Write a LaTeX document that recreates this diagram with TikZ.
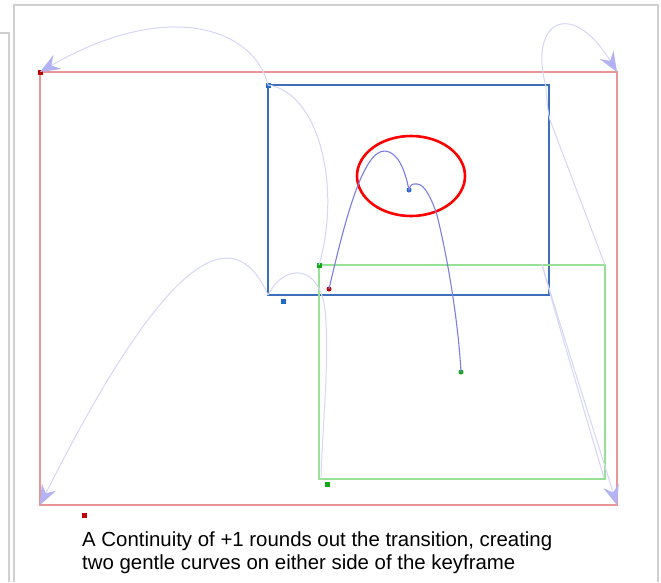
\documentclass[tikz,border=0pt]{standalone}
\usepackage{fontspec}
\setmainfont{Liberation Sans}
\usetikzlibrary{arrows.meta}
\definecolor{framegray}{RGB}{208,208,208}
\definecolor{redrect}{RGB}{232,150,150}
\definecolor{bluerect}{RGB}{60,110,185}
\definecolor{greenrect}{RGB}{150,225,150}
\definecolor{lav}{RGB}{214,214,250}
\definecolor{lavtip}{RGB}{178,178,245}
\definecolor{pathblue}{RGB}{125,125,230}
\definecolor{dred}{RGB}{190,0,0}
\definecolor{dblue}{RGB}{35,105,200}
\definecolor{dgreen}{RGB}{20,170,20}
\tikzset{
  frameline/.style={draw=framegray, line width=2pt},
  keyrect/.style={line width=#1},
  lavpath/.style={draw=lav, line width=1pt},
  lavarrow/.style={lavpath, -{Stealth[length=20pt,width=16pt,inset=7pt,color=lavtip,fill=lavtip]}},
  dotc/.style={circle, inner sep=0pt, minimum size=5pt, fill=#1},
  dotsq/.style={rectangle, inner sep=0pt, minimum size=5pt, fill=#1},
  caption/.style={anchor=base west, inner sep=0pt, font=\fontsize{20.4}{23}\selectfont}
}
\begin{document}
\begin{tikzpicture}[x=1pt,y=-1pt]
\useasboundingbox (0,0) rectangle (661,582);
\fill[white] (0,0) rectangle (661,582);
% screenshot frame lines
\draw[frameline] (0,33) -- (9,33) -- (9,582);
\draw[frameline] (14,582) -- (14,5) -- (658,5) -- (658,582);

% key rectangles
\draw[redrect, keyrect=1.5pt] (40,72) rectangle (617,505);
\draw[bluerect, keyrect=2pt] (268,85) rectangle (549,295);
\draw[greenrect, keyrect=1.5pt] (319,265) rectangle (605,479);

% corner markers
\node[dotsq=dred] (rTL) at (40,72) {};
\node[dotsq=dblue] (bTL) at (268,85) {};
\node[dotsq=dgreen] (gTL) at (319,265) {};
\node[dotsq=dred] (rOff) at (84,515) {};
\node[dotsq=dblue] (bOff) at (283,301) {};
\node[dotsq=dgreen] (gOff) at (327,484) {};

\coordinate (rTR) at (617,72);
\coordinate (rBL) at (40,505);
\coordinate (rBR) at (617,505);
\coordinate (bTR) at (546,87);
\coordinate (bBL) at (268,295);
\coordinate (bBRx) at (542,264);
\coordinate (gTR) at (605,265);
\coordinate (gBL) at (321,479);
\coordinate (gBR) at (604,478);

% corner motion paths
\draw[lavarrow] (bTL.center) .. controls (255,30) and (170,-3) .. (rTL.center);
\draw[lavpath] (bTL.center) .. controls (318,92) and (342,185) .. (gTL.center);
\draw[lavarrow] (bTR) .. controls (528,20) and (572,-2) .. (rTR);
\draw[lavpath] (bTR) .. controls (547,105) and (548,112) .. (550,120) -- (gTR);
\draw[lavarrow] (bBRx) .. controls (552,300) and (600,450) .. (rBR);
\draw[lavpath] (bBRx) .. controls (550,296) and (590,430) .. (gBR);
\draw[lavarrow] (bBL) .. controls (240,232) and (182,222) .. (rBL);
\draw[lavpath] (bBL) .. controls (285,262) and (320,265) .. (325,310)
  .. controls (330,360) and (322,430) .. (gBL);

% key ellipse
\draw[red, line width=2.6pt] (411,176) ellipse [x radius=54, y radius=40];

% center path
\node[dotc=dred] (rC) at (329,289) {};
\node[dotc=dblue] (bC) at (409,190) {};
\node[dotc=dgreen] (gC) at (461,372) {};
\draw[pathblue, line width=1.1pt] (rC.center) .. controls (345,220) and (363,150) .. (385,151)
  .. controls (398,152) and (405,170) .. (bC.center)
  .. controls (411,183) and (413,184) .. (417,184)
  .. controls (425,184) and (432,200) .. (437,215)
  .. controls (448,260) and (458,320) .. (gC.center);

% caption
\node[caption] (cap1) at (82,546) {A Continuity of +1 rounds out the transition, creating};
\node[caption] (cap2) at (82,569) {two gentle curves on either side of the keyframe};
\end{tikzpicture}
\end{document}
